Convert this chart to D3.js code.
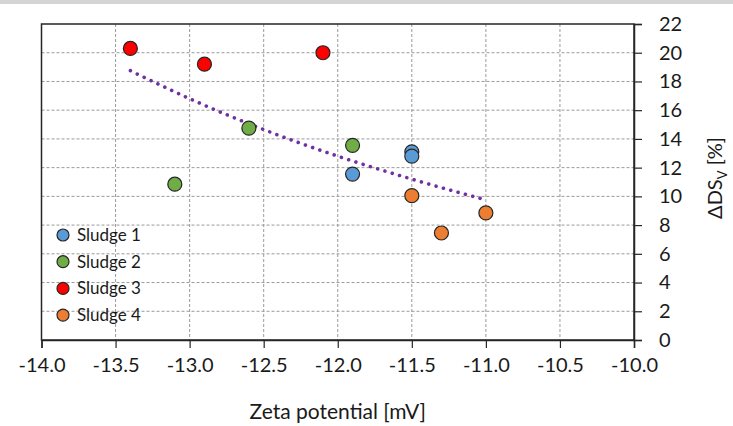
<!DOCTYPE html>
<html>
<head>
<meta charset="utf-8">
<script src="https://cdn.jsdelivr.net/npm/d3@7"></script>
<style>
  html, body { margin: 0; padding: 0; background: #fff; }
  text { font-family: Lato, "Open Sans", sans-serif; fill: #1a1a1a; }
</style>
</head>
<body>
<svg id="chart" width="733" height="426"></svg>
<script>
// series
const sludge1 = [{x: -11.9, y: 11.55}, {x: -11.5, y: 13.1}, {x: -11.5, y: 12.8}];
const sludge2 = [{x: -13.1, y: 10.85}, {x: -12.6, y: 14.75}, {x: -11.9, y: 13.55}];
const sludge3 = [{x: -13.4, y: 20.3}, {x: -12.9, y: 19.2}, {x: -12.1, y: 20.0}];
const sludge4 = [{x: -11.5, y: 10.05}, {x: -11.3, y: 7.45}, {x: -11.0, y: 8.85}];

// dotted trend line (read points)
const trend = [
  {x: -13.4, y: 18.75}, {x: -13.0, y: 16.8}, {x: -12.5, y: 14.65},
  {x: -12.0, y: 12.8}, {x: -11.5, y: 11.2}, {x: -11.0, y: 9.75}
];

const seriesNames = ["Sludge 1", "Sludge 2", "Sludge 3", "Sludge 4"];
const seriesColors = ["#5B9BD5", "#70AD47", "#FF0000", "#ED7D31"];
const xTicks = [-14, -13.5, -13, -12.5, -12, -11.5, -11, -10.5, -10];
const yTicks = [0, 2, 4, 6, 8, 10, 12, 14, 16, 18, 20, 22];

const svg = d3.select("#chart");
const margin = {left: 41.5, right: 634, top: 24, bottom: 340};

// light gray bar at the very top
svg.append("rect")
  .attr("x", 0).attr("y", 0)
  .attr("width", 733).attr("height", 4)
  .attr("fill", "#d4d4d4");

const x = d3.scaleLinear().domain([-14, -10]).range([margin.left, margin.right]);
const y = d3.scaleLinear().domain([0, 22]).range([margin.bottom, margin.top]);

// grid
const grid = svg.append("g").attr("class", "grid");
grid.selectAll("line.v")
  .data(xTicks.slice(1, -1))
  .enter().append("line")
    .attr("class", "v")
    .attr("x1", d => x(d)).attr("x2", d => x(d))
    .attr("y1", margin.top).attr("y2", margin.bottom)
    .attr("stroke", "#9a9a9a")
    .attr("stroke-width", 1)
    .attr("stroke-dasharray", "3,2");
grid.selectAll("line.h")
  .data(yTicks.slice(1, -1))
  .enter().append("line")
    .attr("class", "h")
    .attr("x1", margin.left).attr("x2", margin.right)
    .attr("y1", d => y(d)).attr("y2", d => y(d))
    .attr("stroke", "#9a9a9a")
    .attr("stroke-width", 1)
    .attr("stroke-dasharray", "3,2");

// frame
svg.append("rect")
  .attr("x", margin.left).attr("y", margin.top)
  .attr("width", margin.right - margin.left)
  .attr("height", margin.bottom - margin.top)
  .attr("fill", "none")
  .attr("stroke", "#262626")
  .attr("stroke-width", 1.5);

// x axis
const xAxis = svg.append("g")
  .attr("transform", `translate(0,${margin.bottom})`)
  .call(d3.axisBottom(x).tickValues(xTicks).tickSize(8).tickPadding(10));
xAxis.select(".domain").attr("stroke", "#262626").attr("stroke-width", 1.5);
xAxis.selectAll(".tick line").attr("stroke", "#262626").attr("stroke-width", 1.2);
xAxis.selectAll(".tick text")
  .text(d => d.toFixed(1))
  .attr("font-size", 20).attr("font-family", "Lato, sans-serif").attr("fill", "#1a1a1a");

// y axis on the right
const yAxis = svg.append("g")
  .attr("transform", `translate(${margin.right},0)`)
  .call(d3.axisRight(y).tickValues(yTicks).tickSize(8).tickPadding(17));
yAxis.select(".domain").attr("stroke", "#262626").attr("stroke-width", 1.5);
yAxis.selectAll(".tick line").attr("stroke", "#262626").attr("stroke-width", 1.2);
yAxis.selectAll(".tick text")
  .attr("font-size", 20).attr("font-family", "Lato, sans-serif").attr("fill", "#1a1a1a");

// axis titles
svg.append("text")
  .attr("x", (margin.left + margin.right) / 2)
  .attr("y", 419)
  .attr("text-anchor", "middle")
  .attr("font-size", 21)
  .text("Zeta potential [mV]");

const yTitle = svg.append("text")
  .attr("transform", `translate(722,${(margin.top + margin.bottom) / 2 - 4}) rotate(-90)`)
  .attr("text-anchor", "middle")
  .attr("font-size", 20);
yTitle.append("tspan").text("ΔDS");
yTitle.append("tspan").attr("font-size", 13).attr("dy", 5).text("V");
yTitle.append("tspan").attr("dy", -5).text(" [%]");

// trend line
const line = d3.line().x(d => x(d.x)).y(d => y(d.y)).curve(d3.curveMonotoneX);
svg.append("path")
  .datum(trend)
  .attr("d", line)
  .attr("fill", "none")
  .attr("stroke", "#7030A0")
  .attr("stroke-width", 3.6)
  .attr("stroke-linecap", "round")
  .attr("stroke-dasharray", "0.01,7.6");

// points
const allSeries = [sludge1, sludge2, sludge3, sludge4];
const marks = svg.append("g").attr("class", "points");
allSeries.forEach((series, i) => {
  marks.selectAll(null)
    .data(series)
    .enter().append("circle")
      .attr("cx", d => x(d.x))
      .attr("cy", d => y(d.y))
      .attr("r", 7)
      .attr("fill", seriesColors[i])
      .attr("stroke", "#262626")
      .attr("stroke-width", 1.2);
});

// legend
const legend = svg.append("g").attr("transform", "translate(63,235)");
const item = legend.selectAll("g")
  .data(seriesNames)
  .enter().append("g")
    .attr("transform", (d, i) => `translate(0,${i * 26.7})`);
item.append("circle")
  .attr("r", 6)
  .attr("fill", (d, i) => seriesColors[i])
  .attr("stroke", "#262626")
  .attr("stroke-width", 1.2);
item.append("text")
  .attr("x", 14)
  .attr("y", 6)
  .attr("font-size", 17)
  .text(d => d);
</script>
</body>
</html>
